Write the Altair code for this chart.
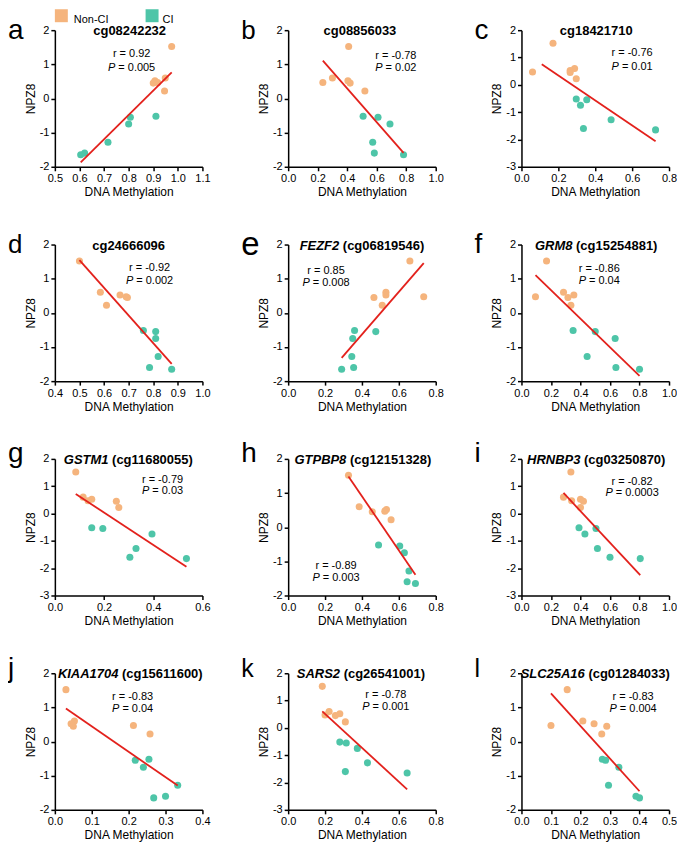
import altair as alt
import pandas as pd

# ---------------- data ----------------
groups = ["Non-CI"] * 6 + ["CI"] * 6
npz8 = [1.52, 0.60, 0.52, 0.47, 0.45, 0.22, -0.52, -0.55, -0.75, -1.28, -1.60, -1.65]

letters = list("abcdefghijkl")
genes = ["", "", "", "", "FEZF2", "GRM8", "GSTM1", "GTPBP8", "HRNBP3", "KIAA1704", "SARS2", "SLC25A16"]
probes = ["cg08242232", "cg08856033", "cg18421710", "cg24666096", "cg06819546", "cg15254881",
          "cg11680055", "cg12151328", "cg03250870", "cg15611600", "cg26541001", "cg01284033"]
r_values = ["0.92", "-0.78", "-0.76", "-0.92", "0.85", "-0.86", "-0.79", "-0.89", "-0.82", "-0.83", "-0.78", "-0.83"]
p_values = ["0.005", "0.02", "0.01", "0.002", "0.008", "0.04", "0.03", "0.003", "0.0003", "0.04", "0.001", "0.004"]

meth_a = [0.975, 0.949, 0.907, 0.918, 0.900, 0.946, 0.911, 0.807, 0.800, 0.716, 0.621, 0.605]
meth_b = [0.41, 0.30, 0.405, 0.235, 0.42, 0.52, 0.508, 0.609, 0.69, 0.573, 0.584, 0.782]
meth_c = [0.171, 0.288, 0.264, 0.06, 0.264, 0.297, 0.297, 0.354, 0.32, 0.486, 0.336, 0.727]
meth_d = [0.50, 0.585, 0.665, 0.69, 0.695, 0.61, 0.76, 0.81, 0.81, 0.82, 0.785, 0.875]
meth_e = [0.66, 0.53, 0.53, 0.735, 0.465, 0.51, 0.36, 0.475, 0.35, 0.345, 0.355, 0.29]
meth_f = [0.17, 0.285, 0.355, 0.095, 0.315, 0.335, 0.35, 0.50, 0.635, 0.445, 0.64, 0.80]
meth_g = [0.085, 0.115, 0.15, 0.135, 0.25, 0.26, 0.15, 0.195, 0.395, 0.33, 0.305, 0.535]
meth_h = [0.327, 0.385, 0.533, 0.524, 0.456, 0.558, 0.49, 0.605, 0.63, 0.655, 0.645, 0.69]
meth_i = [0.335, 0.285, 0.40, 0.34, 0.42, 0.40, 0.39, 0.505, 0.43, 0.515, 0.60, 0.805]
meth_j = [0.03, 0.053, 0.044, 0.213, 0.05, 0.258, 0.255, 0.218, 0.24, 0.333, 0.30, 0.268]
meth_k = [0.185, 0.222, 0.28, 0.20, 0.256, 0.31, 0.28, 0.315, 0.375, 0.43, 0.31, 0.645]
meth_l = [0.155, 0.208, 0.246, 0.10, 0.289, 0.272, 0.274, 0.285, 0.33, 0.295, 0.388, 0.40]
meth = [meth_a, meth_b, meth_c, meth_d, meth_e, meth_f, meth_g, meth_h, meth_i, meth_j, meth_k, meth_l]

x_ticks = [
    [0.5, 0.6, 0.7, 0.8, 0.9, 1.0, 1.1],
    [0.0, 0.2, 0.4, 0.6, 0.8, 1.0],
    [0.0, 0.2, 0.4, 0.6, 0.8],
    [0.4, 0.5, 0.6, 0.7, 0.8, 0.9, 1.0],
    [0.0, 0.2, 0.4, 0.6, 0.8],
    [0.0, 0.2, 0.4, 0.6, 0.8, 1.0],
    [0.0, 0.2, 0.4, 0.6],
    [0.0, 0.2, 0.4, 0.6, 0.8],
    [0.0, 0.2, 0.4, 0.6, 0.8, 1.0],
    [0.0, 0.1, 0.2, 0.3, 0.4],
    [0.0, 0.2, 0.4, 0.6, 0.8],
    [0.0, 0.1, 0.2, 0.3, 0.4, 0.5],
]
y_ticks_2 = [-2, -1, 0, 1, 2]
y_ticks_3 = [-3, -2, -1, 0, 1, 2]
y_ticks = [y_ticks_2, y_ticks_2, y_ticks_3, y_ticks_2, y_ticks_2, y_ticks_2,
           y_ticks_3, y_ticks_2, y_ticks_3, y_ticks_2, y_ticks_3, y_ticks_2]
line_extent = {2: [0.11, 0.727]}

# ---------------- style ----------------
FONT = "Liberation Sans"
ORANGE = "#F5B47D"
TEAL = "#4EC5A8"
RED = "#E3211C"
W, H = 148, 137

# annotation anchors (pixels inside plot): x centre, r baseline, P baseline
annot = [(77, 24, 38), (108, 26, 38), (111, 23, 37), (95, 24, 37), (38, 27, 39), (78, 25, 37),
         (108, 21, 32), (48, 107, 119), (111, 23, 34), (78, 24, 36), (98, 22, 34), (112, 24, 36)]
title_cx = [75, 72, 75, 74, 74, 75, 74, 75, 75, 76, 73, 74]
letter_dx = [-47, -47, -47]
letter_y = [1, 0, -5, -4]
letter_size = [28, 26, 28, 26, 33, 28, 28, 28, 28, 28, 25, 25]

REG = {" ": 278, ".": 278, "-": 333, "=": 584, "r": 333, "P": 667}
BOLD = {" ": 278, "(": 333, ")": 333, "c": 556, "g": 611, "A": 722, "B": 722, "C": 722, "E": 667,
        "F": 611, "G": 778, "H": 722, "I": 278, "K": 722, "L": 611, "M": 833, "N": 722, "P": 667,
        "R": 722, "S": 667, "T": 611, "Z": 611}


def tw(s, table, size):
    return sum(table.get(ch, 556) for ch in s) * size / 1000.0


def txt(s, x, y, **kw):
    return alt.Chart(pd.DataFrame({"t": [s]})).mark_text(font=FONT, color="black", **kw).encode(
        text="t:N", x=alt.value(x), y=alt.value(y))


def panel(i):
    df = pd.DataFrame({"meth": meth[i], "npz8": npz8, "group": groups})
    xt, yt = x_ticks[i], y_ticks[i]
    x = alt.X("meth:Q", scale=alt.Scale(domain=[xt[0], xt[-1]], nice=False, zero=False),
              axis=alt.Axis(values=xt, format=".1f", title="DNA Methylation",
                            labelOverlap=False, labelFlush=False, labelBound=False))
    y = alt.Y("npz8:Q", scale=alt.Scale(domain=[yt[0], yt[-1]], nice=False, zero=False),
              axis=alt.Axis(values=yt, labelExpr="'' + datum.value", title="NPZ8",
                            labelOverlap=False, labelFlush=False, labelBound=False))
    pts = alt.Chart(df).mark_circle(size=50, opacity=1).encode(
        x=x, y=y,
        color=alt.Color("group:N", scale=alt.Scale(domain=["Non-CI", "CI"], range=[ORANGE, TEAL]), legend=None))
    kw = {"extent": line_extent[i]} if i in line_extent else {}
    reg = alt.Chart(df).transform_regression("meth", "npz8", **kw).mark_line(
        color=RED, strokeWidth=1.8).encode(x=x, y=y)

    layers = [pts, reg]
    # title
    cx = title_cx[i]
    probe = probes[i]
    if genes[i]:
        gw = tw(genes[i] + " ", BOLD, 13)
        total = tw(genes[i] + " (" + probe + ")", BOLD, 13)
        x0 = cx - total / 2
        layers.append(txt(genes[i], x0, 1, fontSize=13, fontWeight="bold", fontStyle="italic", align="left"))
        layers.append(txt("(" + probe + ")", x0 + gw, 1, fontSize=13, fontWeight="bold", align="left"))
    else:
        layers.append(txt(probe, cx, 1, fontSize=13, fontWeight="bold", align="center"))
    # r / P annotation
    ax, ry, py = annot[i]
    layers.append(txt("r = " + r_values[i], ax, ry, fontSize=11, align="center"))
    rest = "= " + p_values[i]
    pw = tw("P ", REG, 11)
    total = pw + tw(rest, REG, 11)
    x0 = ax - total / 2
    layers.append(txt("P", x0, py, fontSize=11, fontStyle="italic", align="left"))
    layers.append(txt(rest, x0 + pw, py, fontSize=11, align="left"))
    # panel letter
    layers.append(txt(letters[i], letter_dx[i % 3], letter_y[i // 3], fontSize=letter_size[i], align="left"))
    # legend on first panel
    if i == 0:
        sq = pd.DataFrame({"group": ["Non-CI", "CI"], "px": [6.5, 97.5]})
        layers.append(alt.Chart(sq).mark_square(size=169, opacity=1).encode(
            x=alt.X("px:Q", scale=None), y=alt.value(-14.5),
            color=alt.Color("group:N", scale=alt.Scale(domain=["Non-CI", "CI"], range=[ORANGE, TEAL]), legend=None)))
        layers.append(txt("Non-CI", 19, -10, fontSize=11, align="left"))
        layers.append(txt("CI", 108, -10, fontSize=11, align="left"))
    return alt.layer(*layers).properties(width=W, height=H)


panels = [panel(i) for i in range(12)]

chart = alt.concat(*panels, columns=3, spacing={"row": 78, "column": 86}, bounds="flush").properties(
    padding={"left": 0, "top": 0, "right": 0, "bottom": 0}
).configure_axis(
    domainColor="black", domainWidth=1.5, tickColor="black", tickWidth=1.5, tickSize=4,
    labelFont=FONT, labelFontSize=11, labelColor="black", labelPadding=2,
    titleFont=FONT, titleFontSize=12, titleFontWeight="normal", titleColor="black", grid=False
).configure_axisX(titlePadding=3).configure_axisY(titlePadding=2).configure_view(stroke=None)

chart.save("out.html", embed_options={"renderer": "svg", "actions": False})
